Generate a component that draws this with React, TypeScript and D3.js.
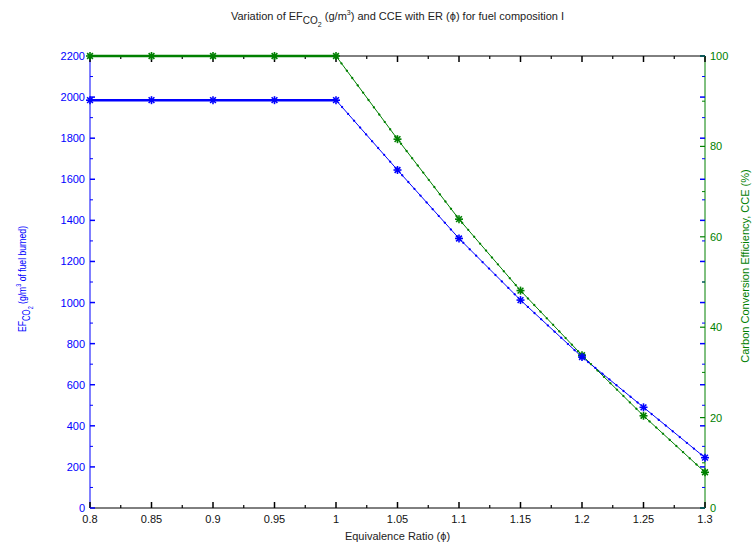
import React from "react";
import * as d3 from "d3";

const ER = [0.8, 0.85, 0.9, 0.95, 1.0, 1.05, 1.1, 1.15, 1.2, 1.25, 1.3];
const EF = [1985, 1985, 1985, 1985, 1985, 1645, 1312, 1012, 735, 490, 245];
const CCE = [100, 100, 100, 100, 100, 81.6, 63.9, 48.1, 33.8, 20.4, 7.9];
const xTicks = [0.8, 0.85, 0.9, 0.95, 1, 1.05, 1.1, 1.15, 1.2, 1.25, 1.3];
const xTickLabels = ["0.8", "0.85", "0.9", "0.95", "1", "1.05", "1.1", "1.15", "1.2", "1.25", "1.3"];
const leftTicks = [0, 200, 400, 600, 800, 1000, 1200, 1400, 1600, 1800, 2000, 2200];
const rightTicks = [0, 20, 40, 60, 80, 100];

const W = 756, H = 548;
const L = 90, R = 705, T = 56, B = 508;
const BLUE = "#0000ff";
const GREEN = "#008000";
const FONT = "'Liberation Sans', Arial, sans-serif";

export default function App() {
  const x = d3.scaleLinear().domain([0.8, 1.3]).range([L, R]);
  const yL = d3.scaleLinear().domain([0, 2200]).range([B, T]);
  const yR = d3.scaleLinear().domain([0, 100]).range([B, T]);

  const efPts: [number, number][] = ER.map((e, i) => [x(e), yL(EF[i])]);
  const ccePts: [number, number][] = ER.map((e, i) => [x(e), yR(CCE[i])]);
  const line = d3.line();

  const flatIdx = ER.findIndex((e) => e >= 1.0);
  const efFlat = line(efPts.slice(0, flatIdx + 1));
  const efSlope = line(efPts.slice(flatIdx));
  const cceFlat = line(ccePts.slice(0, flatIdx + 1));
  const cceSlope = line(ccePts.slice(flatIdx));

  const xMinor = d3.range(0.825, 1.3, 0.05);
  const leftMinor = d3.range(100, 2200, 200);
  const rightMinor = d3.range(10, 100, 20);

  const star = (cx: number, cy: number, color: string, key: string) => {
    const s = 4;
    const d = s * 0.72;
    return (
      <g key={key} stroke={color} strokeWidth={1.6}>
        <line x1={cx - s} y1={cy} x2={cx + s} y2={cy} />
        <line x1={cx} y1={cy - s} x2={cx} y2={cy + s} />
        <line x1={cx - d} y1={cy - d} x2={cx + d} y2={cy + d} />
        <line x1={cx - d} y1={cy + d} x2={cx + d} y2={cy - d} />
      </g>
    );
  };

  return (
    <svg width={W} height={H} style={{ position: "absolute", left: 0, top: 0, background: "#fff" }} fontFamily={FONT}>
      <rect x={0} y={0} width={W} height={H} fill="#fff" />
      {/* Title */}
      <text x={(L + R) / 2} y={20} textAnchor="middle" fontSize={11} fill="#222">
        Variation of EF
        <tspan fontSize={10} dy={4}>CO</tspan>
        <tspan fontSize={7} dy={3}>2</tspan>
        <tspan dy={-7}> (g/m</tspan>
        <tspan fontSize={7} dy={-5}>3</tspan>
        <tspan dy={5}>) and CCE with ER (ϕ) for fuel composition I</tspan>
      </text>

      {/* frame */}
      <line x1={L} y1={T} x2={R} y2={T} stroke="#000" strokeWidth={1} />
      <line x1={L} y1={B} x2={R} y2={B} stroke="#000" strokeWidth={1} />
      <line x1={L} y1={T} x2={L} y2={B} stroke={BLUE} strokeWidth={1} />
      <line x1={R} y1={T} x2={R} y2={B} stroke={GREEN} strokeWidth={1} />

      {/* x ticks */}
      {xTicks.map((t, i) => (
        <g key={"xt" + i}>
          <line x1={x(t)} x2={x(t)} y1={B} y2={B - 6} stroke="#000" strokeWidth={1.5} />
          <line x1={x(t)} x2={x(t)} y1={T} y2={T + 6} stroke="#000" strokeWidth={1.5} />
          <text x={x(t)} y={B + 15} textAnchor="middle" fontSize={11} fill="#111">{xTickLabels[i]}</text>
        </g>
      ))}
      {xMinor.map((t, i) => (
        <g key={"xm" + i}>
          <line x1={x(t)} x2={x(t)} y1={B} y2={B - 3} stroke="#000" strokeWidth={1.2} />
          <line x1={x(t)} x2={x(t)} y1={T} y2={T + 3} stroke="#000" strokeWidth={1.2} />
        </g>
      ))}

      {/* left ticks */}
      {leftTicks.map((t, i) => (
        <g key={"lt" + i}>
          <line x1={L} x2={L + 5} y1={yL(t)} y2={yL(t)} stroke={BLUE} strokeWidth={1.5} />
          <line x1={R} x2={R - 5} y1={yL(t)} y2={yL(t)} stroke={BLUE} strokeWidth={1.5} />
          <text x={L - 5} y={yL(t) + 4} textAnchor="end" fontSize={11} fill={BLUE}>{t}</text>
        </g>
      ))}
      {leftMinor.map((t, i) => (
        <g key={"lm" + i}>
          <line x1={L} x2={L + 3} y1={yL(t)} y2={yL(t)} stroke={BLUE} strokeWidth={1} />
          <line x1={R} x2={R - 3} y1={yL(t)} y2={yL(t)} stroke={BLUE} strokeWidth={1} />
        </g>
      ))}

      {/* right ticks */}
      {rightTicks.map((t, i) => (
        <g key={"rt" + i}>
          <line x1={R} x2={R - 5} y1={yR(t)} y2={yR(t)} stroke={GREEN} strokeWidth={1.2} />
          <text x={R + 5} y={yR(t) + 4} textAnchor="start" fontSize={11} fill={GREEN}>{t}</text>
        </g>
      ))}
      {rightMinor.map((t, i) => (
        <line key={"rm" + i} x1={R} x2={R - 3} y1={yR(t)} y2={yR(t)} stroke={GREEN} strokeWidth={1} />
      ))}

      {/* data lines */}
      <path d={cceFlat || ""} fill="none" stroke={GREEN} strokeWidth={2.5} />
      <path d={cceSlope || ""} fill="none" stroke={GREEN} strokeWidth={1} />
      <path d={efFlat || ""} fill="none" stroke={BLUE} strokeWidth={2.5} />
      <path d={efSlope || ""} fill="none" stroke={BLUE} strokeWidth={1} />
      <path d={cceSlope || ""} fill="none" stroke={GREEN} strokeWidth={2.2} strokeDasharray="0.1 9" strokeLinecap="round" />
      <path d={efSlope || ""} fill="none" stroke={BLUE} strokeWidth={2.2} strokeDasharray="0.1 9" strokeLinecap="round" />
      {ccePts.map((p, i) => star(p[0], p[1], GREEN, "cs" + i))}
      {efPts.map((p, i) => star(p[0], p[1], BLUE, "es" + i))}

      {/* axis labels */}
      <text x={(L + R) / 2} y={540} textAnchor="middle" fontSize={11} fill="#222">Equivalence Ratio (ϕ)</text>
      <g transform={`translate(26, 279) rotate(-90) scale(0.78, 1)`}>
        <text x={0} y={0} textAnchor="middle" fontSize={11} fill={BLUE}>
          EF
          <tspan fontSize={10} dy={4}>CO</tspan>
          <tspan fontSize={7} dy={3}>2</tspan>
          <tspan dy={-7}> (g/m</tspan>
          <tspan fontSize={7} dy={-5}>3</tspan>
          <tspan dy={5}> of fuel burned)</tspan>
        </text>
      </g>
      <text transform={`translate(749, 266) rotate(-90)`} textAnchor="middle" fontSize={11} fill={GREEN}>
        Carbon Conversion Efficiency, CCE (%)
      </text>
    </svg>
  );
}
